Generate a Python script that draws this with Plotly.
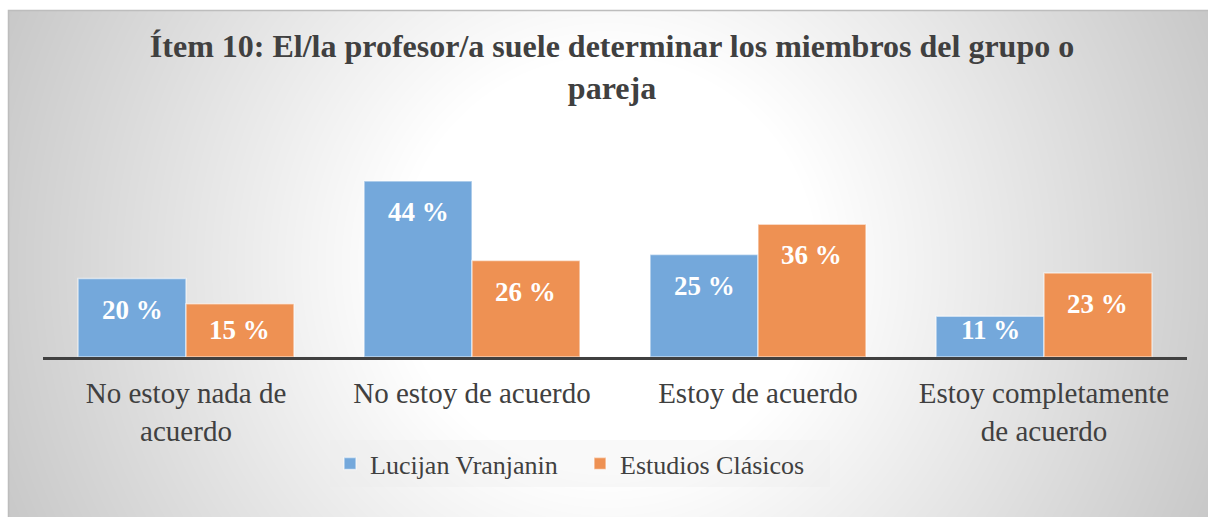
import base64
import struct
import zlib

import numpy as np
import plotly.graph_objects as go

# ---------------- data ----------------
categories = [
    "No estoy nada de<br>acuerdo",
    "No estoy de acuerdo",
    "Estoy de acuerdo",
    "Estoy completamente<br>de acuerdo",
]
series_names = ["Lucijan Vranjanin", "Estudios Clásicos"]
# bar heights as drawn (percent)
lucijan_values = [19.6, 44.0, 25.6, 10.2]
clasicos_values = [13.3, 24.1, 33.2, 21.0]
# data labels as printed on the bars
lucijan_labels = ["20 %", "44 %", "25 %", "11 %"]
clasicos_labels = ["15 %", "26 %", "36 %", "23 %"]

title_text = ("Ítem 10: El/la profesor/a suele determinar los miembros del grupo o"
              "<br>pareja")

# ---------------- layout geometry (page body margin removed -> figure at 0,0) ----------------
W, H = 1208, 517
L, R, T, B = 43, 21, 157, 160
PW, PH = W - L - R, H - T - B
YMAX = 50


def px_x(x):  # page pixel -> paper
    return (x - L) / PW


def px_y(y):  # page pixel -> paper
    return (H - B - y) / PH


# ---------------- radial gradient background (PNG data uri) ----------------
def gradient_png(w, h, cx, cy):
    yy, xx = np.mgrid[0:h, 0:w].astype(float)
    r = np.hypot(xx - cx, yy - cy)
    t = np.clip((r - 210) / 470.0, 0, 1)
    g = (255 - 58 * t).astype(np.uint8)
    raw = b"".join(b"\x00" + g[i].tobytes() for i in range(h))

    def chunk(tag, data):
        c = struct.pack(">I", len(data)) + tag + data
        return c + struct.pack(">I", zlib.crc32(tag + data) & 0xFFFFFFFF)

    png = b"\x89PNG\r\n\x1a\n"
    png += chunk(b"IHDR", struct.pack(">IIBBBBB", w, h, 8, 0, 0, 0, 0))
    png += chunk(b"IDAT", zlib.compress(raw, 9))
    png += chunk(b"IEND", b"")
    return "data:image/png;base64," + base64.b64encode(png).decode()


bx0, by0, bx1, by1 = 8, 10, 1208, 517
bg_src = gradient_png(bx1 - bx0, by1 - by0, 600, 255)

BLUE = "#74a8db"
ORANGE = "#ee9153"
TEXT = "#404040"
SERIF = "Liberation Serif, Times New Roman, serif"

fig = go.Figure()
fig.add_trace(go.Bar(
    x=categories, y=lucijan_values, name=series_names[0],
    marker=dict(color=BLUE, line=dict(color="rgba(255,255,255,0.55)", width=1.5)),
))
fig.add_trace(go.Bar(
    x=categories, y=clasicos_values, name=series_names[1],
    marker=dict(color=ORANGE, line=dict(color="rgba(255,255,255,0.55)", width=1.5)),
))

# data labels, "inside end" style
half_bar = PW / 4 * (1 - 0.245) / 4
unit = PH / YMAX
for vals, labs, shift in ((lucijan_values, lucijan_labels, -half_bar),
                          (clasicos_values, clasicos_labels, half_bar)):
    for cat, v, lab in zip(categories, vals, labs):
        fig.add_annotation(
            x=cat, y=max(v - 31 / unit, 27 / unit), xshift=shift,
            text=lab, showarrow=False, xanchor="center", yanchor="middle",
            font=dict(family=SERIF, size=27, color="white", weight="bold"),
        )

fig.add_layout_image(dict(
    source=bg_src, xref="paper", yref="paper",
    x=px_x(bx0), y=px_y(by0),
    sizex=px_x(bx1) - px_x(bx0), sizey=px_y(by0) - px_y(by1),
    xanchor="left", yanchor="top", sizing="stretch", layer="below",
))
fig.add_shape(type="rect", xref="paper", yref="paper",
              x0=px_x(bx0 + 0.5), x1=px_x(bx1 + 4), y0=px_y(by1 + 4), y1=px_y(by0 + 0.5),
              line=dict(color="#bdbdbd", width=1.5), fillcolor="rgba(0,0,0,0)", layer="below")

fig.update_layout(
    width=W, height=H,
    margin=dict(l=L, r=R, t=T, b=B, pad=0),
    paper_bgcolor="white",
    plot_bgcolor="rgba(0,0,0,0)",
    barmode="group", bargap=0.245, bargroupgap=0,
    title=dict(text=title_text, x=612 / W, xref="container", xanchor="center",
               y=1 - 57 / H, yref="container", yanchor="top",
               font=dict(family=SERIF, size=32, color=TEXT, weight="bold")),
    font=dict(family=SERIF, color=TEXT),
    showlegend=True,
    legend=dict(orientation="h", x=px_x(330), y=px_y(440), xanchor="left", yanchor="top",
                bgcolor="rgba(236,236,236,0.3)", borderwidth=0,
                font=dict(family=SERIF, size=26, color=TEXT),
                entrywidth=205, itemclick=False),
    xaxis=dict(showline=True, linecolor="#404040", linewidth=3, ticks="",
               tickfont=dict(family=SERIF, size=29, color=TEXT), showgrid=False,
               ticklabelstandoff=8, fixedrange=True),
    yaxis=dict(range=[0, YMAX], visible=False, showgrid=False, zeroline=False,
               fixedrange=True),
)

fig.write_html(
    "out.html",
    config={"displayModeBar": False},
    post_script="document.body.style.margin='0';document.body.style.overflow='hidden';",
)
